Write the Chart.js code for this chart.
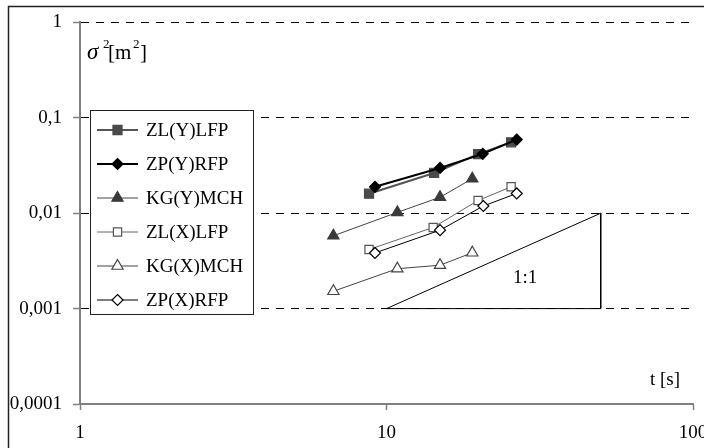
<!DOCTYPE html>
<html><head><meta charset="utf-8">
<script src="https://cdn.jsdelivr.net/npm/chart.js@4.4.1/dist/chart.umd.min.js"></script>
<style>
html,body{margin:0;padding:0;background:#fff;overflow:hidden}
#wrap{width:704px;height:448px;overflow:hidden;position:relative;background:#fff}
canvas{display:block}
</style></head><body>
<div id="wrap"><canvas id="c" width="720" height="448" style="width:720px;height:448px"></canvas></div>
<script>
// ---- data ----
const seriesNames = ['ZL(Y)LFP','ZP(Y)RFP','KG(Y)MCH','ZL(X)LFP','KG(X)MCH','ZP(X)RFP'];
const xZLY = [8.77, 14.3, 19.9, 25.5];
const yZLY = [0.016, 0.0264, 0.0416, 0.0554];
const xZPY = [9.17, 14.95, 20.6, 26.6];
const yZPY = [0.0189, 0.0298, 0.0419, 0.0591];
const xKGY = [6.71, 10.85, 14.95, 19.05];
const yKGY = [0.0058, 0.0102, 0.0147, 0.023];
const xZLX = [8.77, 14.2, 19.9, 25.5];
const yZLX = [0.00416, 0.00709, 0.0136, 0.0189];
const xKGX = [6.71, 10.85, 14.95, 19.05];
const yKGX = [0.00152, 0.00262, 0.00285, 0.00385];
const xZPX = [9.17, 14.95, 20.7, 26.6];
const yZPX = [0.00383, 0.00664, 0.0119, 0.0161];
const triX = [10, 50, 50, 10];
const triY = [0.001, 0.01, 0.001, 0.001];
const xTickValues = [1, 10, 100];
const xTickLabels = ['1', '10', '100'];
const yTickValues = [0.0001, 0.001, 0.01, 0.1, 1];
const yTickLabels = ['0,0001', '0,001', '0,01', '0,1', '1'];
const slopeLabel = '1:1';
const xTitle = 't [s]';

const FONT = '"Liberation Serif", "Times New Roman", serif';
const pts = (xs, ys) => xs.map((x, i) => ({x, y: ys[i]}));

const styles = [
  {xs:xZLY, ys:yZLY, shape:'rect', r:6.4, fill:'#4a4a4a', stroke:'#4a4a4a', line:'#555555', lw:2},
  {xs:xZPY, ys:yZPY, shape:'rectRot', r:5.5, fill:'#000000', stroke:'#000000', line:'#000000', lw:2},
  {xs:xKGY, ys:yKGY, shape:'triangle', r:6.5, fill:'#3a3a3a', stroke:'#3a3a3a', line:'#444444', lw:1},
  {xs:xZLX, ys:yZLX, shape:'rect', r:5.8, fill:'#ffffff', stroke:'#555555', line:'#666666', lw:1},
  {xs:xKGX, ys:yKGX, shape:'triangle', r:6.5, fill:'#ffffff', stroke:'#444444', line:'#444444', lw:1},
  {xs:xZPX, ys:yZPX, shape:'rectRot', r:5.5, fill:'#ffffff', stroke:'#000000', line:'#000000', lw:1}
];

const datasets = styles.map((s, i) => ({
  label: seriesNames[i],
  data: pts(s.xs, s.ys),
  borderColor: s.line,
  borderWidth: s.lw,
  pointStyle: s.shape,
  pointRadius: s.r,
  pointBackgroundColor: s.fill,
  pointBorderColor: s.stroke,
  pointBorderWidth: 1.2,
  showLine: true,
  tension: 0,
  order: 10 - i
}));
datasets.push({
  label: 'slope',
  data: pts(triX, triY),
  borderColor: '#000',
  borderWidth: 1,
  pointRadius: 0,
  showLine: true,
  tension: 0,
  order: 20
});

function drawMarker(ctx, shape, x, y, r, fill, stroke) {
  ctx.save();
  ctx.beginPath();
  if (shape === 'rect') {
    const s = Math.SQRT1_2 * r;
    ctx.rect(x - s, y - s, 2 * s, 2 * s);
  } else if (shape === 'rectRot') {
    ctx.moveTo(x, y - r); ctx.lineTo(x + r, y); ctx.lineTo(x, y + r); ctx.lineTo(x - r, y); ctx.closePath();
  } else {
    const h = r * Math.sqrt(3) / 2;
    ctx.moveTo(x, y - r); ctx.lineTo(x + h, y + r / 2); ctx.lineTo(x - h, y + r / 2); ctx.closePath();
  }
  ctx.fillStyle = fill; ctx.fill();
  ctx.lineWidth = 1.2; ctx.strokeStyle = stroke; ctx.stroke();
  ctx.restore();
}

const decor = {
  id: 'decor',
  beforeDraw(chart) {
    const ctx = chart.ctx;
    ctx.save();
    ctx.fillStyle = '#fff';
    ctx.fillRect(0, 0, chart.width, chart.height);
    ctx.strokeStyle = '#222';
    ctx.lineWidth = 1.5;
    ctx.strokeRect(8.5, 6.5, 800, 600);
    ctx.restore();
  },
  afterDraw(chart) {
    const ctx = chart.ctx;
    ctx.save();
    // y title sigma^2 [m^2]
    ctx.fillStyle = '#000';
    ctx.textBaseline = 'alphabetic';
    ctx.font = 'italic 23px ' + FONT;
    ctx.fillText('σ', 87, 59);
    ctx.font = '13px ' + FONT;
    ctx.fillText('2', 103, 48);
    ctx.font = '21px ' + FONT;
    ctx.fillText('[m', 108, 59);
    ctx.font = '13px ' + FONT;
    ctx.fillText('2', 133, 48);
    ctx.font = '21px ' + FONT;
    ctx.fillText(']', 140, 59);
    // x title
    ctx.font = '19px ' + FONT;
    ctx.fillText(xTitle, 650, 385);
    // slope label, placed inside the triangle
    ctx.fillText(slopeLabel, 513, 283);

    // legend
    const lx = 90.5, ly = 110.5, lw = 163, lh = 204;
    ctx.fillStyle = '#fff';
    ctx.fillRect(lx, ly, lw, lh);
    ctx.strokeStyle = '#222';
    ctx.lineWidth = 1;
    ctx.strokeRect(lx, ly, lw, lh);
    styles.forEach((s, i) => {
      const y = 130 + i * 34;
      ctx.beginPath();
      ctx.moveTo(97, y); ctx.lineTo(138, y);
      ctx.strokeStyle = s.line; ctx.lineWidth = s.lw; ctx.stroke();
      drawMarker(ctx, s.shape, 117.5, y, s.r, s.fill, s.stroke);
      ctx.fillStyle = '#000';
      ctx.font = '19px ' + FONT;
      ctx.textBaseline = 'middle';
      ctx.fillText(seriesNames[i], 146, y + 1);
    });
    ctx.restore();
  }
};

new Chart(document.getElementById('c'), {
  type: 'scatter',
  data: {datasets},
  options: {
    responsive: false,
    animation: false,
    layout: {padding: {left: 0, top: 19, right: 27, bottom: 0}},
    plugins: {legend: {display: false}, tooltip: {enabled: false}},
    scales: {
      x: {
        type: 'logarithmic', min: 1, max: 100,
        afterBuildTicks: sc => { sc.ticks = xTickValues.map(v => ({value: v})); },
        afterFit: sc => { sc.height = 44; },
        ticks: {
          autoSkip: false, maxRotation: 0, color: '#000', padding: 12,
          font: {family: FONT, size: 19},
          callback: (v, i) => xTickLabels[i]
        },
        grid: {drawOnChartArea: false, drawTicks: true, tickLength: 6, tickColor: '#808080', tickWidth: 1.5},
        border: {display: true, color: '#808080', width: 2}
      },
      y: {
        type: 'logarithmic', min: 0.0001, max: 1,
        afterBuildTicks: sc => { sc.ticks = yTickValues.map(v => ({value: v})); },
        afterFit: sc => { sc.width = 80; },
        ticks: {
          autoSkip: false, color: '#000', padding: 11,
          font: {family: FONT, size: 19},
          callback: (v, i) => yTickLabels[i]
        },
        grid: {
          drawOnChartArea: true, drawTicks: true, tickLength: 7,
          color: c => (c.tick && c.tick.value === 0.0001) ? 'rgba(0,0,0,0)' : '#000',
          lineWidth: 1, tickColor: '#808080', tickWidth: 1.5, tickBorderDash: []
        },
        border: {display: true, color: '#808080', width: 2, dash: [8, 7]}
      }
    }
  },
  plugins: [decor]
});
</script>
</body></html>
